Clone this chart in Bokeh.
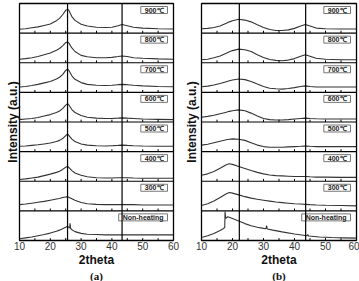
import math
from bokeh.plotting import figure
from bokeh.models import Range1d, FixedTicker, Label, Span, LinearAxis
from bokeh.layouts import row
from bokeh.embed import file_html
from bokeh.resources import INLINE

# ---- data ----
LABELS = ["900℃", "800℃", "700℃", "600℃", "500℃", "400℃", "300℃", "Non-heating"]
X_TICK_LABELS = [10, 20, 30, 40, 50, 60]
MINOR_TICKS = [15, 20, 25, 30, 35, 40, 45, 50, 55]

X_A = [10, 12, 14, 16, 18, 20, 22, 23, 24, 25, 25.6, 26, 27, 28, 30, 32, 35, 38, 40, 42, 43.3, 45, 47, 50, 55, 60]
A_900 = [0.13, 0.15, 0.18, 0.21, 0.26, 0.31, 0.42, 0.5, 0.62, 0.77, 0.8, 0.77, 0.56, 0.43, 0.3, 0.24, 0.2, 0.19, 0.2, 0.25, 0.29, 0.25, 0.2, 0.17, 0.15, 0.14]
A_800 = [0.12, 0.14, 0.17, 0.21, 0.27, 0.33, 0.42, 0.48, 0.57, 0.68, 0.7, 0.67, 0.5, 0.38, 0.25, 0.2, 0.17, 0.17, 0.18, 0.21, 0.23, 0.21, 0.17, 0.15, 0.13, 0.12]
A_700 = [0.18, 0.2, 0.23, 0.27, 0.32, 0.37, 0.45, 0.51, 0.6, 0.74, 0.78, 0.75, 0.56, 0.44, 0.33, 0.27, 0.24, 0.23, 0.24, 0.26, 0.27, 0.26, 0.24, 0.22, 0.2, 0.19]
A_600 = [0.08, 0.1, 0.12, 0.15, 0.2, 0.25, 0.32, 0.37, 0.45, 0.57, 0.62, 0.58, 0.42, 0.32, 0.22, 0.16, 0.13, 0.12, 0.12, 0.13, 0.14, 0.13, 0.12, 0.1, 0.09, 0.08]
A_500 = [0.18, 0.19, 0.21, 0.23, 0.26, 0.29, 0.34, 0.38, 0.44, 0.54, 0.6, 0.55, 0.42, 0.34, 0.26, 0.22, 0.2, 0.19, 0.2, 0.21, 0.22, 0.21, 0.2, 0.19, 0.18, 0.18]
A_400 = [0.06, 0.08, 0.11, 0.14, 0.19, 0.24, 0.3, 0.34, 0.4, 0.47, 0.51, 0.47, 0.36, 0.28, 0.2, 0.15, 0.12, 0.11, 0.11, 0.12, 0.12, 0.12, 0.11, 0.1, 0.1, 0.1]
A_300 = [0.21, 0.23, 0.26, 0.29, 0.32, 0.36, 0.4, 0.42, 0.45, 0.47, 0.48, 0.46, 0.41, 0.36, 0.28, 0.24, 0.22, 0.21, 0.21, 0.21, 0.21, 0.21, 0.21, 0.2, 0.2, 0.2]
X_A_RAW = [10, 12, 14, 16, 18, 20, 22, 23, 24, 25, 25.6, 26, 26.3, 26.4, 26.6, 27, 28, 30, 32, 35, 38, 40, 42, 43.3, 45, 47, 50, 55, 60]
A_RAW = [0.06, 0.09, 0.12, 0.16, 0.2, 0.25, 0.31, 0.35, 0.4, 0.45, 0.48, 0.44, 0.42, 0.58, 0.41, 0.36, 0.3, 0.24, 0.21, 0.2, 0.19, 0.19, 0.19, 0.19, 0.19, 0.19, 0.19, 0.19, 0.19]
REF_A = [25.6, 43.3]

X_B = [10, 12, 14, 16, 18, 19, 20, 22, 24, 26, 28, 30, 32, 34, 36, 38, 40, 42, 43.5, 45, 47, 50, 55, 60]
B_900 = [0.15, 0.16, 0.19, 0.24, 0.33, 0.38, 0.42, 0.47, 0.44, 0.38, 0.28, 0.19, 0.12, 0.09, 0.09, 0.11, 0.16, 0.24, 0.29, 0.24, 0.17, 0.15, 0.14, 0.14]
B_800 = [0.1, 0.12, 0.17, 0.23, 0.32, 0.37, 0.41, 0.46, 0.44, 0.38, 0.27, 0.18, 0.11, 0.08, 0.07, 0.09, 0.14, 0.22, 0.27, 0.22, 0.15, 0.12, 0.1, 0.1]
B_700 = [0.19, 0.21, 0.25, 0.3, 0.36, 0.39, 0.42, 0.45, 0.43, 0.37, 0.28, 0.2, 0.14, 0.12, 0.11, 0.13, 0.16, 0.2, 0.22, 0.2, 0.18, 0.18, 0.18, 0.18]
B_600 = [0.16, 0.19, 0.23, 0.28, 0.33, 0.36, 0.38, 0.41, 0.38, 0.3, 0.2, 0.12, 0.08, 0.07, 0.07, 0.08, 0.1, 0.12, 0.13, 0.12, 0.11, 0.1, 0.1, 0.1]
B_500 = [0.22, 0.25, 0.3, 0.35, 0.4, 0.42, 0.43, 0.42, 0.38, 0.3, 0.22, 0.17, 0.15, 0.15, 0.15, 0.16, 0.17, 0.18, 0.19, 0.18, 0.17, 0.17, 0.17, 0.17]
B_400 = [0.2, 0.25, 0.33, 0.44, 0.56, 0.59, 0.57, 0.5, 0.43, 0.36, 0.3, 0.25, 0.21, 0.19, 0.18, 0.17, 0.16, 0.16, 0.16, 0.15, 0.14, 0.14, 0.13, 0.13]
B_300 = [0.18, 0.24, 0.33, 0.45, 0.58, 0.62, 0.6, 0.54, 0.48, 0.43, 0.39, 0.36, 0.33, 0.3, 0.28, 0.26, 0.24, 0.23, 0.22, 0.21, 0.2, 0.19, 0.18, 0.17]
X_B_RAW = [10, 12, 14, 16, 17, 17.5, 17.6, 17.8, 18.5, 20, 22, 24, 26, 28, 30, 30.8, 31, 31.2, 33, 36, 40, 44, 44.3, 44.5, 48, 52, 56, 60]
B_RAW = [0.1, 0.16, 0.24, 0.34, 0.4, 0.44, 0.98, 0.75, 0.8, 0.74, 0.66, 0.57, 0.5, 0.45, 0.41, 0.4, 0.5, 0.39, 0.35, 0.29, 0.22, 0.16, 0.2, 0.15, 0.12, 0.1, 0.09, 0.08]
REF_B = [22.2, 43.6]

PANEL_A = [(X_A, A_900), (X_A, A_800), (X_A, A_700), (X_A, A_600), (X_A, A_500), (X_A, A_400), (X_A, A_300), (X_A_RAW, A_RAW)]
PANEL_B = [(X_B, B_900), (X_B, B_800), (X_B, B_700), (X_B, B_600), (X_B, B_500), (X_B, B_400), (X_B, B_300), (X_B_RAW, B_RAW)]

FONT = "Liberation Sans"


def make_panel(curves, refs, tag, frame_w, left, right, ylab_standoff):
    n = len(curves)
    p = figure(frame_width=frame_w, frame_height=237, output_backend="svg", toolbar_location=None,
               x_range=Range1d(10, 60), y_range=Range1d(0, n),
               min_border_left=left, min_border_right=right, min_border_top=3, min_border_bottom=0)
    p.xgrid.visible = False
    p.ygrid.visible = False
    p.outline_line_color = "black"
    p.outline_line_width = 1.3
    p.background_fill_color = "white"

    ya = p.yaxis[0]
    ya.ticker = FixedTicker(ticks=[])
    ya.major_tick_line_color = None
    ya.minor_tick_line_color = None
    ya.axis_line_color = None
    ya.major_label_standoff = 0
    ya.major_tick_out = 0
    ya.major_tick_in = 0
    ya.axis_label = "Intensity (a.u.)"
    ya.axis_label_text_font = FONT
    ya.axis_label_text_font_size = "12px"
    ya.axis_label_text_font_style = "bold"
    ya.axis_label_text_color = "#111111"
    ya.axis_label_standoff = ylab_standoff

    ax = p.xaxis[0]
    ax.ticker = FixedTicker(ticks=X_TICK_LABELS)
    ax.major_tick_line_color = None
    ax.minor_tick_line_color = None
    ax.major_tick_out = 0
    ax.major_tick_in = 0
    ax.axis_line_color = None
    ax.major_label_standoff = 1
    ax.major_label_text_font = FONT
    ax.major_label_text_font_size = "10px"
    ax.major_label_text_color = "#333333"
    ax.axis_label = "2theta"
    ax.axis_label_text_font = FONT
    ax.axis_label_text_font_size = "12px"
    ax.axis_label_text_font_style = "bold"
    ax.axis_label_text_color = "#111111"
    ax.axis_label_standoff = 0

    tag_axis = LinearAxis(ticker=FixedTicker(ticks=[]), axis_label=tag,
                          axis_label_text_font="Liberation Serif", axis_label_text_font_size="11px",
                          axis_label_text_font_style="bold", axis_label_text_color="#111111",
                          axis_label_standoff=0, major_tick_in=0, major_tick_out=0,
                          major_label_standoff=0, axis_line_color=None,
                          major_tick_line_color=None, minor_tick_line_color=None)
    p.add_layout(tag_axis, "below")

    for i, ((xs, ys), lab) in enumerate(zip(curves, LABELS)):
        base = n - 1 - i
        p.line(xs, [base + v for v in ys], line_color="#333333", line_width=1.1)
        p.segment(x0=MINOR_TICKS, y0=[base] * len(MINOR_TICKS), x1=MINOR_TICKS,
                  y1=[base + 0.08] * len(MINOR_TICKS), line_color="black", line_width=1)
        if base > 0:
            p.add_layout(Span(location=base, dimension="width", line_color="black", line_width=1.2))
        p.add_layout(Label(x=60, y=base + 1, x_offset=-6, y_offset=-3, text=lab,
                           text_align="right", text_baseline="top",
                           text_font=FONT, text_font_size="7px", text_font_style="bold",
                           text_color="#222222", border_line_color="#777777",
                           background_fill_color="white",
                           padding=dict(left=4, right=4, top=0, bottom=0)))
    for r in refs:
        p.add_layout(Span(location=r, dimension="height", line_color="black", line_width=1.2))
    return p


pa = make_panel(PANEL_A, REF_A, "(a)", 154, 19, 7, 0)
pb = make_panel(PANEL_B, REF_B, "(b)", 155, 21, 3, 3)
layout = row(pa, pb)

open("out.html", "w").write(file_html(layout, INLINE))
